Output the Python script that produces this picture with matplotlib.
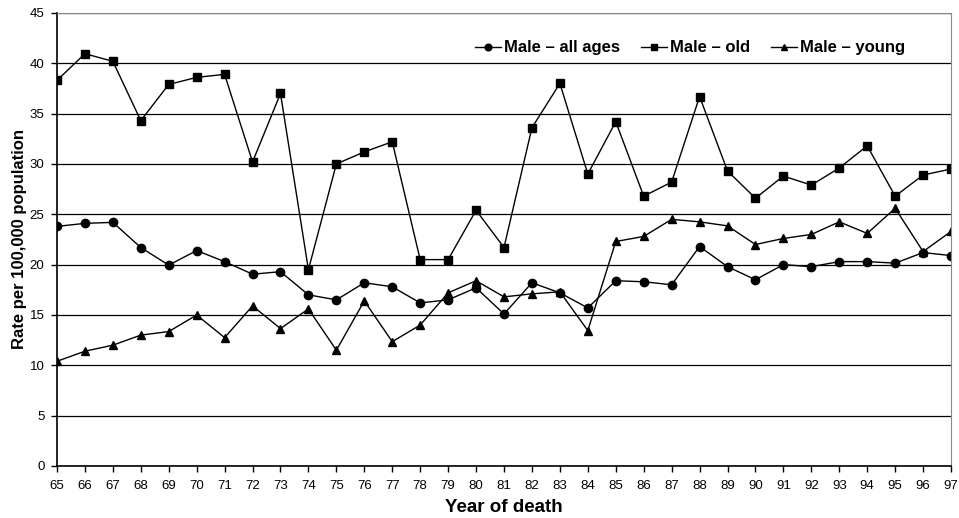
import matplotlib
matplotlib.use("Agg")
import matplotlib.pyplot as plt

plt.rcParams['font.family'] = ['Liberation Sans', 'DejaVu Sans']

years = list(range(65, 98))
all_ages = [23.8, 24.1, 24.2, 21.7, 19.95, 21.4, 20.3, 19.05, 19.3, 17.0, 16.5,
            18.2, 17.8, 16.2, 16.5, 17.7, 15.1, 18.2, 17.2, 15.7, 18.4, 18.3,
            18.0, 21.8, 19.8, 18.5, 20.0, 19.8, 20.3, 20.3, 20.15, 21.2, 20.9]
old = [38.3, 40.95, 40.2, 34.3, 37.9, 38.6, 38.9, 30.2, 37.0, 19.5, 30.0,
       31.2, 32.2, 20.5, 20.5, 25.4, 21.7, 33.6, 38.0, 29.0, 34.2, 26.8,
       28.2, 36.7, 29.3, 26.6, 28.8, 27.9, 29.6, 31.8, 26.8, 28.9, 29.5]
young = [10.4, 11.4, 12.0, 13.0, 13.35, 15.0, 12.75, 15.9, 13.65, 15.6, 11.5,
         16.4, 12.35, 14.0, 17.2, 18.4, 16.8, 17.1, 17.3, 13.45, 22.3, 22.8,
         24.5, 24.25, 23.85, 22.0, 22.6, 23.0, 24.25, 23.1, 25.6, 21.3, 23.3]

fig = plt.figure(figsize=(9.59, 5.18), dpi=100)
ax = fig.add_axes([0.0594, 0.1004, 0.9323, 0.8746])

ax.plot(years, all_ages, color='black', lw=1, marker='o', ms=6, label='Male \u2013 all ages')
ax.plot(years, old, color='black', lw=1, marker='s', ms=6, label='Male \u2013 old')
ax.plot(years, young, color='black', lw=1, marker='^', ms=6, label='Male \u2013 young')

ax.set_xlim(65, 97)
ax.set_ylim(0, 45)
ax.set_xticks(years)
ax.set_xticklabels([str(y) for y in years])
ax.set_yticks(range(0, 46, 5))
ax.yaxis.grid(True, color='black', lw=0.9)
ax.set_axisbelow(True)
ax.tick_params(axis='both', labelsize=9.5, direction='out', length=4, width=1)
ax.tick_params(axis='x', pad=6)
ax.tick_params(axis='y', pad=5)
ax.spines['top'].set_color('#888888')
ax.spines['right'].set_color('#888888')
ax.spines['left'].set_linewidth(1.2)
ax.spines['bottom'].set_linewidth(1.2)

ax.set_xlabel('Year of death', fontsize=13.5, fontweight='bold', labelpad=5)
ax.set_ylabel('Rate per 100,000 population', fontsize=12, fontweight='bold', labelpad=2)

ax.legend(loc='center', bbox_to_anchor=(0.708, 0.923), ncol=3, frameon=False,
          prop={'weight': 'bold', 'size': 12}, handlelength=1.55, handletextpad=0.15,
          columnspacing=1.3, markerscale=0.8)

fig.savefig('out.png', dpi=100)
